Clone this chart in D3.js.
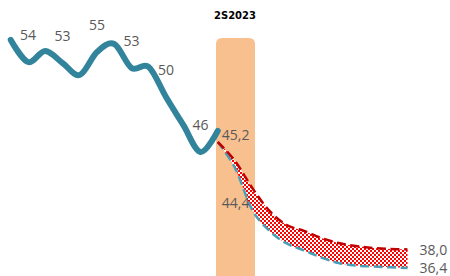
<!DOCTYPE html>
<html>
<head>
<meta charset="utf-8">
<script src="https://cdn.jsdelivr.net/npm/d3@7/dist/d3.min.js"></script>
<style>
    body { margin: 0; background: #fff; }
    .label { font-family: "Open Sans", sans-serif; font-size: 14px; fill: #595959; }
    .title { font-family: "DejaVu Sans", sans-serif; font-size: 10px; font-weight: bold; fill: #000; }
</style>
</head>
<body>
<div id="chart"></div>
<script>
// semester series, index 0 = first semester shown
var pastValues = [56.04, 54.14, 55.09, 54.06, 53.02, 55.00, 55.69, 53.63, 53.71, 51.13, 48.72, 46.39, 48.20];
var pastLabels = [null, "54", null, "53", null, "55", null, "53", null, "50", null, "46", null];

// projection from index 12 onward
var projStart = 12;
var projHigh = [47.25, 45.62, 43.29, 41.31, 40.10, 39.59, 38.98, 38.55, 38.29, 38.12, 38.04, 38.0];
var projLow = [47.25, 45.01, 41.40, 39.59, 38.51, 37.91, 37.30, 36.83, 36.61, 36.52, 36.46, 36.4];
var projLabels = {startHigh: "45,2", low: "44,4", endHigh: "38,0", endLow: "36,4"};

var highlight = {index: 13, label: "2S2023"};

var width = 450,
    height = 276;

var x = d3.scaleLinear().domain([0, 12]).range([10.75, 217.75]);
var y = d3.scaleLinear().domain([36, 56]).range([272.6, 40.4]);

var curve = d3.curveCardinal.tension(0);

var svg = d3.select("#chart").append("svg")
    .attr("width", width)
    .attr("height", height);

var defs = svg.append("defs");
var pat = defs.append("pattern")
    .attr("id", "checker")
    .attr("patternUnits", "userSpaceOnUse")
    .attr("width", 4)
    .attr("height", 4);
pat.append("rect").attr("width", 4).attr("height", 4).attr("fill", "#fff");
pat.append("rect").attr("width", 2).attr("height", 2).attr("fill", "#ff0000");
pat.append("rect").attr("x", 2).attr("y", 2).attr("width", 2).attr("height", 2).attr("fill", "#ff0000");

// highlighted semester column
var bx = x(highlight.index) - 19,
    bw = 39,
    barTop = 38,
    r = 6;
svg.append("path")
    .attr("d", "M" + bx + "," + height +
        "V" + (barTop + r) +
        "Q" + bx + "," + barTop + " " + (bx + r) + "," + barTop +
        "H" + (bx + bw - r) +
        "Q" + (bx + bw) + "," + barTop + " " + (bx + bw) + "," + (barTop + r) +
        "V" + height + "Z")
    .attr("fill", "#f9c08f");

svg.append("text")
    .attr("class", "title")
    .attr("x", x(highlight.index))
    .attr("y", 19)
    .attr("text-anchor", "middle")
    .text(highlight.label);

var proj = projHigh.map(function (d, i) {
    return {i: projStart + i, hi: d, lo: projLow[i]};
});

var line = d3.line()
    .x(function (d, i) { return x(i); })
    .y(function (d) { return y(d); })
    .curve(curve);

svg.append("path")
    .datum(pastValues)
    .attr("d", line)
    .attr("fill", "none")
    .attr("stroke", "#31849b")
    .attr("stroke-width", 6)
    .attr("stroke-linecap", "round")
    .attr("stroke-linejoin", "round");

var band = d3.area()
    .x(function (d) { return x(d.i); })
    .y0(function (d) { return y(d.lo); })
    .y1(function (d) { return y(d.hi); })
    .curve(curve);

svg.append("path")
    .datum(proj)
    .attr("d", band)
    .attr("fill", "url(#checker)");

var hiLine = d3.line()
    .x(function (d) { return x(d.i); })
    .y(function (d) { return y(d.hi); })
    .curve(curve);

var loLine = d3.line()
    .x(function (d) { return x(d.i); })
    .y(function (d) { return y(d.lo); })
    .curve(curve);

svg.append("path")
    .datum(proj)
    .attr("d", loLine)
    .attr("fill", "none")
    .attr("stroke", "#4a9fb8")
    .attr("stroke-width", 2.5)
    .attr("stroke-dasharray", "9,4.5");

svg.append("path")
    .datum(proj)
    .attr("d", hiLine)
    .attr("fill", "none")
    .attr("stroke", "#c00000")
    .attr("stroke-width", 2.5)
    .attr("stroke-dasharray", "9,4.5");

// data labels
svg.selectAll(".hlabel")
    .data(pastValues.map(function (d, i) { return {i: i, v: d, t: pastLabels[i]}; })
        .filter(function (d) { return d.t; }))
    .enter().append("text")
    .attr("class", "label")
    .attr("x", function (d) { return x(d.i); })
    .attr("y", function (d) { return y(d.v) - 22; })
    .attr("text-anchor", "middle")
    .text(function (d) { return d.t; });

var last = proj[proj.length - 1];

svg.append("text")
    .attr("class", "label")
    .attr("x", x(projStart) + 4)
    .attr("y", y(proj[0].hi) - 2)
    .text(projLabels.startHigh);

svg.append("text")
    .attr("class", "label")
    .attr("x", x(projStart) + 4)
    .attr("y", y(proj[2].lo) - 2)
    .text(projLabels.low);

svg.append("text")
    .attr("class", "label")
    .attr("x", x(last.i) + 12)
    .attr("y", y(last.hi) + 6)
    .text(projLabels.endHigh);

svg.append("text")
    .attr("class", "label")
    .attr("x", x(last.i) + 12)
    .attr("y", y(last.lo) + 5)
    .text(projLabels.endLow);
</script>
</body>
</html>
